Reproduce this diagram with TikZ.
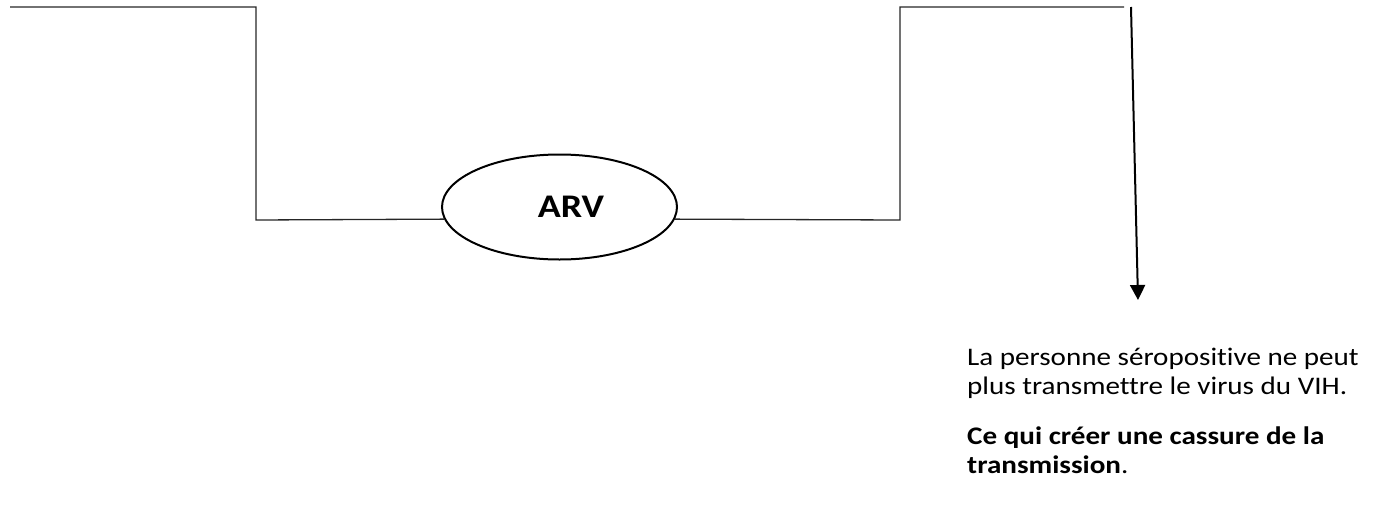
\documentclass[tikz,border=0pt]{standalone}
\usepackage{fontspec}
\setmainfont{Carlito}
\newfontfamily\widefont[FakeStretch=1.15,Ligatures=NoCommon]{Carlito}
\usetikzlibrary{shapes.geometric,arrows.meta}
\tikzset{
  link/.style={draw=black!85, line width=1.3pt},
  bubble/.style={ellipse, draw=black, line width=2pt, minimum width=235pt, minimum height=105pt, inner sep=0pt},
  result/.style={-{Triangle[width=15pt,length=15pt]}, draw=black, line width=2pt},
  note/.style={anchor=base west, align=left, inner sep=0pt, font=\widefont\fontsize{25.3pt}{28.5pt}\selectfont}
}
\begin{document}
\begin{tikzpicture}[x=1pt,y=-1pt]
  \useasboundingbox (0,0) rectangle (1381,506);
  % central treatment bubble
  \node[bubble] (arv) at (559.5,207) {};
  \node[font=\widefont\fontsize{33pt}{40pt}\selectfont\bfseries] (arvlabel) at (571,207) {ARV};
  % incoming and outgoing stepped lines
  \coordinate (start) at (10,7);
  \coordinate (stepA) at (256,7);
  \coordinate (stepB) at (256,220);
  \coordinate (stepC) at (900,220);
  \coordinate (stepD) at (900,7);
  \coordinate (finish) at (1124,7);
  \draw[link] (start) -- (stepA) -- (stepB) -- (arv.186.5);
  \draw[link] (arv.-6.5) -- (stepC) -- (stepD) -- (finish);
  % outcome arrow
  \coordinate (arrowtop) at (1131,7);
  \coordinate (arrowtip) at (1138,300);
  \draw[result] (arrowtop) -- (arrowtip);
  % outcome text (node base is the last line)
  \node[note] (outcome) at (967,394) {La personne séropositive ne peut\\plus transmettre le virus du VIH.};
  \node[note] (conclusion) at (967,473) {\textbf{Ce qui créer une cassure de la}\\\textbf{transmission}.};
\end{tikzpicture}
\end{document}
